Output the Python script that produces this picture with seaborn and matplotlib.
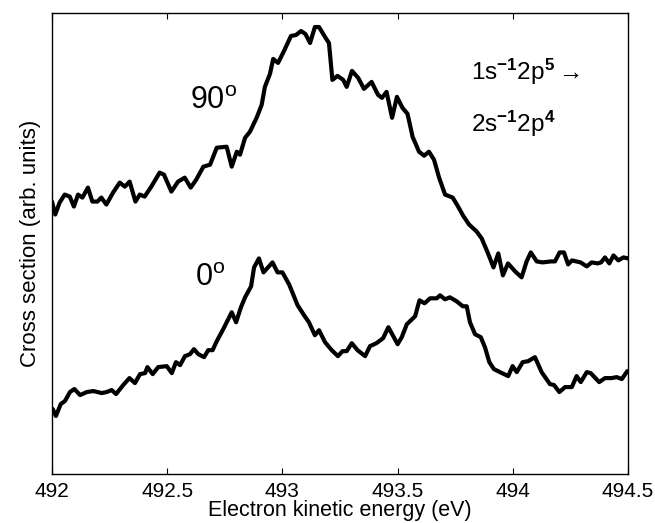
import matplotlib
matplotlib.use("Agg")
import matplotlib.pyplot as plt
import seaborn as sns
import pandas as pd

# 90 degree spectrum (energy in eV, cross section in arb. units)
energy_90 = [492.000, 492.014, 492.033, 492.055, 492.077, 492.095, 492.113, 492.132, 492.156, 492.175,
             492.197, 492.214, 492.236, 492.265, 492.294, 492.316, 492.337, 492.362, 492.381, 492.402,
             492.431, 492.467, 492.486, 492.518, 492.547, 492.576, 492.602, 492.626, 492.657, 492.686,
             492.715, 492.758, 492.780, 492.802, 492.816, 492.838, 492.859, 492.888, 492.910, 492.924,
             492.946, 492.960, 492.981, 493.007, 493.037, 493.059, 493.081, 493.100, 493.120, 493.141,
             493.159, 493.185, 493.202, 493.217, 493.239, 493.264, 493.279, 493.302, 493.329, 493.354,
             493.387, 493.415, 493.432, 493.452, 493.476, 493.497, 493.521, 493.543, 493.565, 493.593,
             493.615, 493.636, 493.658, 493.680, 493.706, 493.739, 493.760, 493.784, 493.810, 493.843,
             493.865, 493.887, 493.901, 493.916, 493.937, 493.957, 493.979, 494.010, 494.038, 494.060,
             494.078, 494.104, 494.129, 494.166, 494.183, 494.203, 494.222, 494.240, 494.257, 494.294,
             494.321, 494.342, 494.368, 494.383, 494.400, 494.419, 494.437, 494.458, 494.480, 494.500]
sigma_90 = [2.71, 2.58, 2.70, 2.78, 2.76, 2.66, 2.78, 2.75, 2.85, 2.71,
            2.71, 2.75, 2.68, 2.80, 2.90, 2.86, 2.91, 2.71, 2.78, 2.76,
            2.86, 3.00, 2.98, 2.81, 2.91, 2.95, 2.85, 2.93, 3.06, 3.08,
            3.25, 3.26, 3.06, 3.21, 3.18, 3.35, 3.41, 3.55, 3.68, 3.86,
            3.99, 4.14, 4.10, 4.22, 4.37, 4.38, 4.42, 4.39, 4.30, 4.46,
            4.46, 4.36, 4.30, 3.93, 3.97, 3.93, 3.86, 4.02, 3.95, 3.84,
            3.91, 3.78, 3.75, 3.81, 3.55, 3.76, 3.65, 3.59, 3.36, 3.21,
            3.17, 3.21, 3.13, 2.95, 2.78, 2.75, 2.67, 2.57, 2.48, 2.41,
            2.34, 2.22, 2.14, 2.05, 2.19, 1.97, 2.09, 2.01, 1.95, 2.11,
            2.20, 2.11, 2.10, 2.11, 2.11, 2.20, 2.20, 2.08, 2.12, 2.10,
            2.06, 2.10, 2.09, 2.10, 2.15, 2.09, 2.17, 2.12, 2.15, 2.14]

# 0 degree spectrum
energy_0 = [492.003, 492.017, 492.038, 492.056, 492.078, 492.097, 492.122, 492.151, 492.179, 492.216,
            492.237, 492.259, 492.278, 492.309, 492.336, 492.360, 492.382, 492.404, 492.414, 492.437,
            492.461, 492.498, 492.520, 492.538, 492.556, 492.577, 492.599, 492.616, 492.635, 492.660,
            492.678, 492.697, 492.715, 492.743, 492.780, 492.799, 492.820, 492.838, 492.864, 492.877,
            492.898, 492.918, 492.957, 492.979, 493.000, 493.029, 493.066, 493.094, 493.115, 493.141,
            493.159, 493.185, 493.214, 493.241, 493.261, 493.279, 493.301, 493.326, 493.359, 493.380,
            493.408, 493.437, 493.460, 493.500, 493.518, 493.540, 493.576, 493.595, 493.617, 493.641,
            493.670, 493.684, 493.706, 493.727, 493.756, 493.783, 493.800, 493.814, 493.836, 493.861,
            493.879, 493.898, 493.918, 493.944, 493.980, 493.999, 494.017, 494.043, 494.067, 494.096,
            494.125, 494.161, 494.179, 494.202, 494.227, 494.256, 494.277, 494.295, 494.321, 494.338,
            494.375, 494.400, 494.429, 494.451, 494.473, 494.497]
sigma_0 = [0.63, 0.56, 0.68, 0.71, 0.80, 0.83, 0.77, 0.80, 0.81, 0.79,
           0.80, 0.82, 0.78, 0.87, 0.94, 0.89, 0.98, 0.99, 1.05, 0.98,
           1.05, 1.06, 0.99, 1.10, 1.07, 1.16, 1.18, 1.23, 1.18, 1.15,
           1.22, 1.22, 1.31, 1.43, 1.60, 1.50, 1.65, 1.75, 1.86, 2.05,
           2.14, 2.00, 2.10, 2.00, 2.00, 1.88, 1.67, 1.57, 1.50, 1.37,
           1.42, 1.30, 1.22, 1.16, 1.21, 1.21, 1.29, 1.22, 1.16, 1.26,
           1.29, 1.34, 1.45, 1.28, 1.35, 1.48, 1.56, 1.72, 1.69, 1.74,
           1.74, 1.77, 1.73, 1.75, 1.71, 1.66, 1.66, 1.50, 1.38, 1.35,
           1.25, 1.10, 1.03, 1.00, 0.96, 1.06, 1.00, 1.10, 1.11, 1.15,
           1.00, 0.88, 0.87, 0.80, 0.85, 0.85, 0.96, 0.90, 1.00, 0.99,
           0.90, 0.94, 0.94, 0.95, 0.93, 1.01]

xticks = [492, 492.5, 493, 493.5, 494, 494.5]
xtick_labels = ["492", "492.5", "493", "493.5", "494", "494.5"]

df = pd.concat([
    pd.DataFrame({"energy": energy_90, "sigma": sigma_90, "angle": "90"}),
    pd.DataFrame({"energy": energy_0, "sigma": sigma_0, "angle": "0"}),
])

sns.set_style("white")
plt.rcParams["font.family"] = ["Liberation Sans", "DejaVu Sans"]
plt.rcParams["mathtext.fontset"] = "custom"
plt.rcParams["mathtext.rm"] = "Liberation Sans"
plt.rcParams["mathtext.bf"] = "Liberation Sans:bold"

fig, ax = plt.subplots(figsize=(6.55, 5.23), dpi=100)
fig.subplots_adjust(left=0.0794, right=0.9588, bottom=0.094, top=0.975)

sns.lineplot(data=df, x="energy", y="sigma", units="angle", estimator=None,
             color="black", linewidth=3.0, sort=False, ax=ax)

ax.set_xlim(492, 494.5)
ax.set_ylim(-0.02, 4.6)
ax.set_xticks(xticks)
ax.set_xticklabels(xtick_labels)
ax.set_yticks([])
ax.tick_params(axis="x", direction="in", length=4, width=0.8, top=True,
               bottom=True, labelsize=15, pad=6, colors="black")
for sp in ax.spines.values():
    sp.set_color("black")
    sp.set_linewidth(1.0)

ax.set_xlabel("Electron kinetic energy (eV)", fontsize=15.5, labelpad=-1, color="black")
ax.set_ylabel("Cross section (arb. units)", fontsize=16, labelpad=8, color="black")

ax.text(492.6, 3.64, r"$\mathregular{90^o}$", fontsize=22, ha="left", va="baseline", color="black")
ax.text(492.62, 1.86, r"$\mathregular{0^o}$", fontsize=22, ha="left", va="baseline", color="black")
ax.text(493.82, 3.93, r"$\mathregular{1s^{\mathbf{-1}}2p^{\mathbf{5}}\rightarrow}$",
        fontsize=17.5, ha="left", va="baseline", color="black")
ax.text(493.82, 3.41, r"$\mathregular{2s^{\mathbf{-1}}2p^{\mathbf{4}}}$",
        fontsize=17.5, ha="left", va="baseline", color="black")

fig.savefig("out.png", dpi=100)
